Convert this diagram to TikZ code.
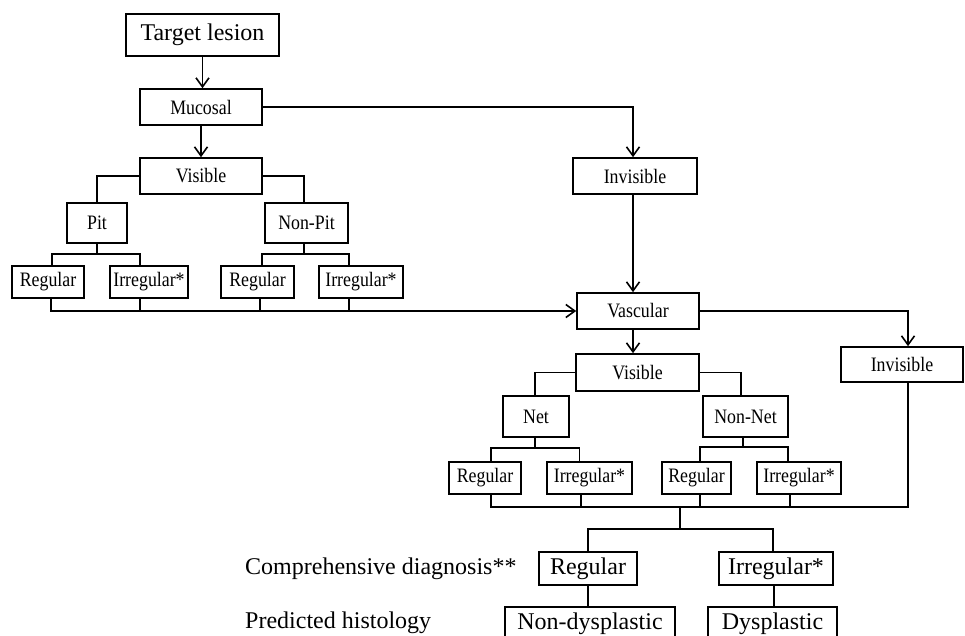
\documentclass[tikz,border=0pt]{standalone}
\usepackage{fontspec}
\setmainfont{Liberation Serif}
\newfontfamily\condserif[FakeStretch=0.87]{Liberation Serif}
\usetikzlibrary{arrows.meta}
\begin{document}
\begin{tikzpicture}[x=1pt,y=-1pt,
  box/.style={draw,line width=1.6pt,inner sep=0pt,align=center},
  big/.style={font=\fontsize{24}{28}\selectfont},
  mid/.style={font=\condserif\fontsize{20.5}{24}\selectfont},
  ln/.style={line width=1.6pt},
  arr/.style={ln,-{Straight Barb[length=9pt,width=13pt]}},
]
\useasboundingbox (0,0) rectangle (965,636);
\clip (0,0) rectangle (965,636);

% --- nodes
\node[box,big,minimum width=153pt,minimum height=42pt] (target) at (202.5,35) {Target lesion};
\node[box,mid,minimum width=122pt,minimum height=36pt] (muc) at (201,107) {Mucosal};
\node[box,mid,minimum width=122pt,minimum height=36pt] (vis1) at (201,176) {Visible};
\node[box,mid,minimum width=124pt,minimum height=36pt] (inv1) at (635,176) {Invisible};
\node[box,mid,minimum width=60pt,minimum height=40pt] (pit) at (97,223) {Pit};
\node[box,mid,minimum width=83pt,minimum height=40pt] (nonpit) at (306.5,223) {Non-Pit};
\node[box,mid,minimum width=72pt,minimum height=32pt] (r1) at (48,282) {Regular};
\node[box,mid,minimum width=78pt,minimum height=32pt] (i1) at (149,282) {Irregular*};
\node[box,mid,minimum width=73pt,minimum height=32pt] (r2) at (257.5,282) {Regular};
\node[box,mid,minimum width=84pt,minimum height=32pt] (i2) at (361,282) {Irregular*};
\node[box,mid,minimum width=122pt,minimum height=36pt] (vasc) at (638,311) {Vascular};
\node[box,mid,minimum width=122pt,minimum height=35pt] (inv2) at (902,364.5) {Invisible};
\node[box,mid,minimum width=123pt,minimum height=37pt] (vis2) at (637.5,372.5) {Visible};
\node[box,mid,minimum width=66pt,minimum height=41pt] (net) at (536,416.5) {Net};
\node[box,mid,minimum width=85pt,minimum height=41pt] (nonnet) at (745.5,416.5) {Non-Net};
\node[box,mid,minimum width=72pt,minimum height=32pt] (r3) at (485,478) {Regular};
\node[box,mid,minimum width=85pt,minimum height=32pt] (i3) at (589.5,478) {Irregular*};
\node[box,mid,minimum width=69pt,minimum height=32pt] (r4) at (696.5,478) {Regular};
\node[box,mid,minimum width=84pt,minimum height=32pt] (i4) at (799,478) {Irregular*};
\node[box,big,minimum width=98pt,minimum height=33pt] (creg) at (588,568.5) {Regular};
\node[box,big,minimum width=114pt,minimum height=33pt] (cirr) at (776,568.5) {Irregular*};
\node[box,big,minimum width=170pt,minimum height=33pt] (nond) at (590,623.5) {Non-dysplastic};
\node[box,big,minimum width=129pt,minimum height=33pt] (dysp) at (772.5,623.5) {Dysplastic};
\node[big,anchor=base west,inner sep=0pt] (lab1) at (245,574) {Comprehensive diagnosis**};
\node[big,anchor=base west,inner sep=0pt] (lab2) at (245,628) {Predicted histology};

% --- helper points
\coordinate (r1b) at ([xshift=3pt]r1.south);
\coordinate (r1t) at ([xshift=4pt]r1.north);
\coordinate (i1b) at ([xshift=-9pt]i1.south);
\coordinate (i1t) at ([xshift=-9pt]i1.north);
\coordinate (r2b) at ([xshift=2.5pt]r2.south);
\coordinate (r2t) at ([xshift=4.5pt]r2.north);
\coordinate (i2b) at ([xshift=-12pt]i2.south);
\coordinate (i2t) at ([xshift=-12pt]i2.north);
\coordinate (r3t) at ([xshift=6pt]r3.north);
\coordinate (r3b) at ([xshift=6pt]r3.south);
\coordinate (i3t) at ([xshift=-10pt]i3.north);
\coordinate (i3b) at ([xshift=-8.5pt]i3.south);
\coordinate (r4t) at ([xshift=3.5pt]r4.north);
\coordinate (r4b) at ([xshift=3.5pt]r4.south);
\coordinate (i4t) at ([xshift=-11pt]i4.north);
\coordinate (i4b) at ([xshift=-9pt]i4.south);
\coordinate (inv2t) at ([xshift=6pt]inv2.north);
\coordinate (inv2b) at ([xshift=6pt]inv2.south);
\coordinate (pitj) at ([yshift=11pt]r1t -| pit.south);
\coordinate (npj) at ([yshift=11pt]r2t -| nonpit.south);
\coordinate (netj) at ([yshift=13pt]r3t -| net.south);
\coordinate (nnj) at ([yshift=14pt]r4t -| nonnet.south);
\coordinate (j) at (680,507);
\coordinate (k) at (680,529);

% --- connectors: mucosal part
\draw[arr] (target) -- (target.south |- muc.north);
\draw[arr] (muc) -- (muc.south |- vis1.north);
\draw[arr] (muc.east) -| ([xshift=-2pt]inv1.north);
\draw[ln] (vis1.west) -| (pit.north);
\draw[ln] (vis1.east) -| ([xshift=-2.5pt]nonpit.north);
\draw[ln] (pit.south) -- (pitj);
\draw[ln] (r1t) |- (pitj) -| (i1t);
\draw[ln] ([xshift=-2.5pt]nonpit.south) -- ([xshift=-2.5pt]npj);
\draw[ln] (r2t) |- (npj) -| (i2t);
\draw[arr] (r1b) |- (vasc.west);
\draw[ln] (i1b) -- (i1b |- vasc.west);
\draw[ln] (r2b) -- (r2b |- vasc.west);
\draw[ln] (i2b) -- (i2b |- vasc.west);

% --- vascular part
\draw[arr] ([xshift=-2pt]inv1.south) -- ([xshift=-2pt]inv1.south |- vasc.north);
\draw[arr] ([xshift=-5pt]vasc.south) -- ([xshift=-5pt]vasc.south |- vis2.north);
\draw[arr] (vasc.east) -| (inv2t);
\draw[ln] (vis2.west) -| ([xshift=-1pt]net.north);
\draw[ln] (vis2.east) -| ([xshift=-4.5pt]nonnet.north);
\draw[ln] ([xshift=-1pt]net.south) -- ([xshift=-1pt]netj);
\draw[ln] (r3t) |- ([xshift=-1pt]netj) -| (i3t);
\draw[ln] ([xshift=-2.5pt]nonnet.south) -- ([xshift=-2.5pt]nnj);
\draw[ln] (r4t) |- ([xshift=-2.5pt]nnj) -| (i4t);
\draw[ln] (r3b) |- (j) -| (inv2b);
\draw[ln] (i3b) -- (i3b |- j);
\draw[ln] (r4b) -- (r4b |- j);
\draw[ln] (i4b) -- (i4b |- j);

% --- comprehensive diagnosis
\draw[ln] (j) -- (k);
\draw[ln] (creg.north) |- (k) -| ([xshift=-3pt]cirr.north);
\draw[ln] (creg.south) -- (creg.south |- nond.north);
\draw[ln] ([xshift=-2pt]cirr.south) -- ([xshift=-2pt]cirr.south |- dysp.north);
\end{tikzpicture}
\end{document}
